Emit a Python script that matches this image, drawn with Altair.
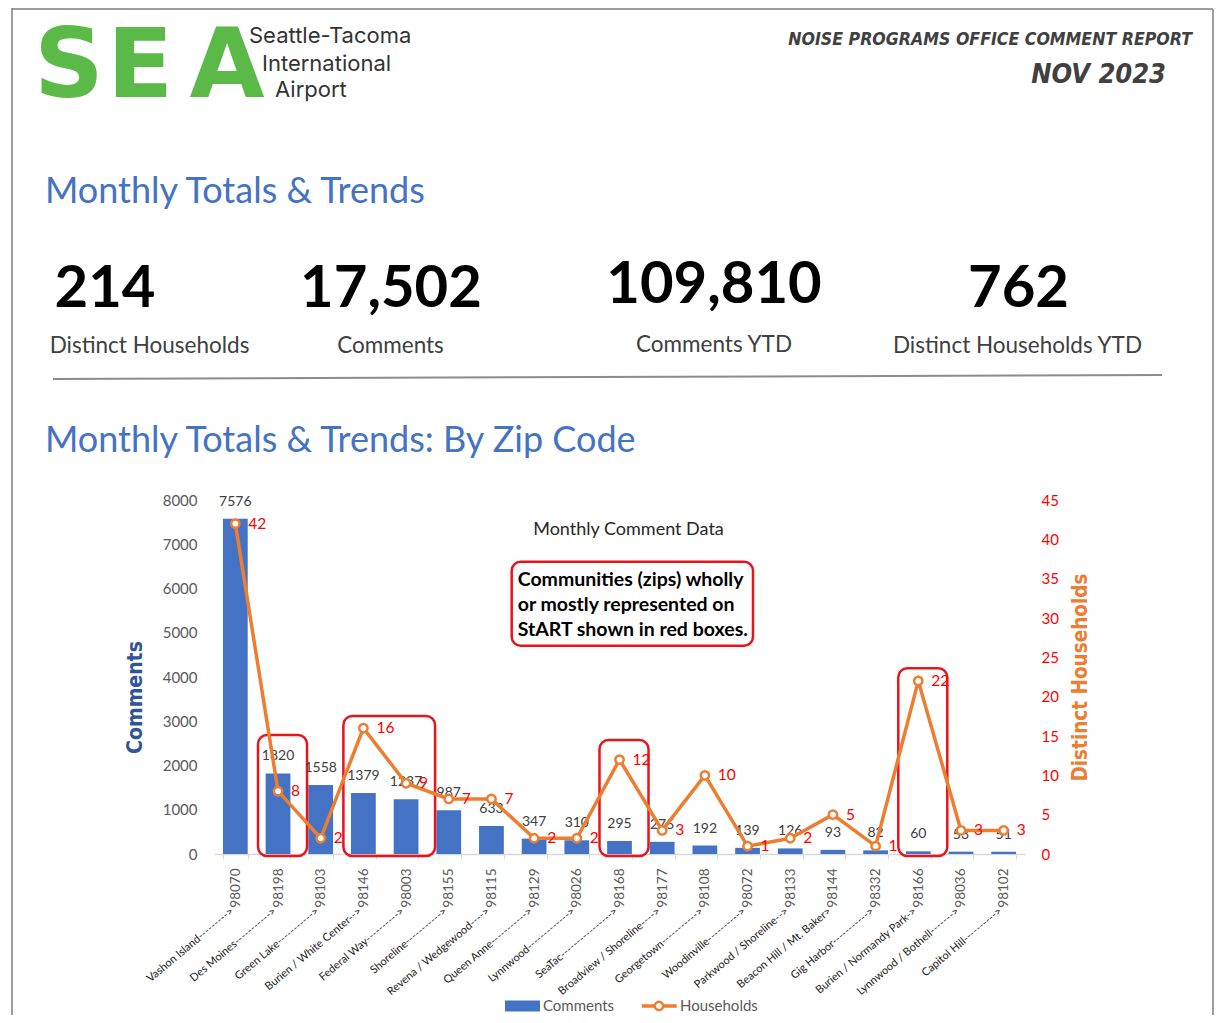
import altair as alt
import pandas as pd

# ---------------- data ----------------
zips = ["98070", "98198", "98103", "98146", "98003", "98155", "98115", "98129", "98026", "98168",
        "98177", "98108", "98072", "98133", "98144", "98332", "98166", "98036", "98102"]
places = ["Vashon Island", "Des Moines", "Green Lake", "Burien / White Center", "Federal Way",
          "Shoreline", "Revena / Wedgewood", "Queen Anne", "Lynnwood", "SeaTac",
          "Broadview / Shoreline", "Georgetown", "Woodinville", "Parkwood / Shoreline",
          "Beacon Hill / Mt. Baker", "Gig Harbor", "Burien / Normandy Park", "Lynnwood / Bothell",
          "Capitol Hill"]
arrow_dashes = [9, 11, 11, 2, 10, 11, 4, 11, 13, 16, 4, 11, 10, 2, 0, 11, 1, 7, 10]
comments = [7576, 1820, 1558, 1379, 1237, 987, 633, 347, 310, 295, 275, 192, 139, 126, 93, 82, 60, 53, 51]
households = [42, 8, 2, 16, 9, 7, 7, 2, 2, 12, 3, 10, 1, 2, 5, 1, 22, 3, 3]

box_first = ["98198", "98146", "98168", "98166"]
box_last = ["98198", "98003", "98168", "98166"]
box_top = [2690, 3120, 2575, 4200]

kpi_values = ["214", "17,502", "109,810", "762"]
kpi_labels = ["Distinct Households", "Comments", "Comments YTD", "Distinct Households YTD"]

logo_letters = ["S", "E", "A"]
logo_lines = ["Seattle-Tacoma", "International", "Airport"]
report_title = "NOISE PROGRAMS OFFICE COMMENT REPORT"
report_month = "NOV 2023"
section_titles = ["Monthly Totals & Trends", "Monthly Totals & Trends: By Zip Code"]
chart_caption = "Monthly Comment Data"
note_lines = ["Communities (zips) wholly", "or mostly represented on", "StART shown in red boxes."]
legend_names = ["Comments", "Households"]

# ---------------- layout / style ----------------
OX, OY = 214, 500          # page position of plot origin
W, H = 811, 354
TOTW, TOTH = 1206, 1007
CAL = "Lato, Open Sans, sans-serif"
NARROW = "Liberation Sans Narrow, Arial Narrow, DejaVu Sans Condensed, sans-serif"
BAR = "#4472C4"
ORANGE = "#ED7D31"
RED = "#FF0000"
BOXRED = "#E8141C"
GRAY = "#595959"

df = pd.DataFrame({
    "zip": zips,
    "place": [p + "-" * n + ">" for p, n in zip(places, arrow_dashes)],
    "comments": comments,
    "households": households,
})
boxes_df = pd.DataFrame({"first": box_first, "last": box_last, "top": box_top})


def T(text, px, py, **kw):
    return alt.Chart(pd.DataFrame({"t": [text]})).mark_text(**kw).encode(
        x=alt.value(px - OX), y=alt.value(py - OY), text="t:N")


def R(px1, px2, py1, py2, **kw):
    return alt.Chart(pd.DataFrame({"t": [0]})).mark_rule(**kw).encode(
        x=alt.value(px1 - OX), x2=alt.value(px2 - OX), y=alt.value(py1 - OY), y2=alt.value(py2 - OY))


def BOX(px1, px2, py1, py2, **kw):
    return alt.Chart(pd.DataFrame({"t": [0]})).mark_rect(**kw).encode(
        x=alt.value(px1 - OX), x2=alt.value(px2 - OX), y=alt.value(py1 - OY), y2=alt.value(py2 - OY))


xscale = alt.Scale(domain=zips, paddingInner=0.42, paddingOuter=0.21)
xaxis = alt.Axis(labelAngle=270, labelFont=CAL, labelFontSize=13.5, labelColor=GRAY,
                 labelPadding=9, tickBand="extent", tickSize=5, tickColor="#D9D9D9",
                 domainColor="#D9D9D9", domainWidth=1.5, title=None)
xenc = alt.X("zip:N", title=None, scale=xscale, axis=xaxis)

# ---------------- comments (left axis) ----------------
left_axis = alt.Axis(title="Comments", values=list(range(0, 8001, 1000)), format="d", grid=False,
                     domain=False, ticks=False, labelPadding=17, labelFont=CAL, labelFontSize=15,
                     labelColor=GRAY, titleFont=NARROW, titleFontSize=21, titleFontWeight="bold",
                     titleColor="#2F5597", titleAngle=270, titleX=135.7 - OX, titleY=697 - OY,
                     titleBaseline="middle")
yc = alt.Scale(domain=[0, 8000], nice=False)

bars = alt.Chart(df).mark_bar(color=BAR).encode(
    x=xenc, y=alt.Y("comments:Q", scale=yc, axis=left_axis))
bar_lbl = alt.Chart(df).mark_text(font=CAL, fontSize=14, color="#404040", baseline="middle", dy=-17).encode(
    x=xenc, y=alt.Y("comments:Q", scale=yc, axis=None), text="comments:Q")
red_boxes = alt.Chart(boxes_df).mark_rect(fillOpacity=0, stroke=BOXRED, strokeWidth=2.5, cornerRadius=9,
                                          xOffset=-20, x2Offset=29, y2Offset=2).encode(
    x=alt.X("first:N", title=None, scale=xscale, axis=xaxis),
    x2=alt.X2("last:N"),
    y=alt.Y("top:Q", scale=yc, axis=None),
    y2=alt.datum(0))
place_lbl = alt.Chart(df).mark_text(font=CAL, fontSize=11, color="#1A1A1A", angle=320, align="right",
                                    baseline="middle", xOffset=-3).encode(
    x=xenc, y=alt.value(410), text="place:N")

# ---------------- households (right axis) ----------------
right_axis = alt.Axis(title="Distinct Households", orient="right", values=list(range(0, 46, 5)), grid=False,
                      domain=False, ticks=False, labelPadding=16, labelFont=CAL, labelFontSize=15,
                      labelColor=RED, titleFont=NARROW, titleFontSize=20.5, titleFontWeight="bold",
                      titleColor=ORANGE, titleAngle=270, titleX=1080 - (OX + W), titleY=677 - OY,
                      titleBaseline="middle")
yh = alt.Scale(domain=[0, 45], nice=False)

hline = alt.Chart(df).mark_line(color=ORANGE, strokeWidth=3.5).encode(
    x=xenc, y=alt.Y("households:Q", scale=yh, axis=right_axis))
hpts = alt.Chart(df).mark_point(shape="circle", filled=True, fill="white", stroke=ORANGE, strokeWidth=2.5,
                                size=70, opacity=1).encode(
    x=xenc, y=alt.Y("households:Q", scale=yh, axis=None))
hlbl = alt.Chart(df).mark_text(font=CAL, fontSize=15.5, color=RED, align="left", baseline="middle", dx=13).encode(
    x=xenc, y=alt.Y("households:Q", scale=yh, axis=None), text="households:Q")

# ---------------- page decoration ----------------
deco = []
deco.append(R(12, 12, 8, 1030, color="#7F7F7F", strokeWidth=1.5))
deco.append(R(12, 1213, 9, 9, color="#7F7F7F", strokeWidth=1.5))
deco.append(R(1213, 1213, 9, 1030, color="#7F7F7F", strokeWidth=1.5))

for letter, cx in zip(logo_letters, [69, 140, 227]):
    deco.append(T(letter, cx, 97, font="DejaVu Sans", fontWeight="bold", fontSize=97, color="#5BB947",
                  align="center", baseline="alphabetic"))
for line, lx, ly in zip(logo_lines, [249, 262, 275], [36, 64, 90]):
    deco.append(T(line, lx, ly, font="Inter, Open Sans, sans-serif", fontSize=22, color="#333333",
                  align="left", baseline="middle"))
deco.append(T(report_title, 1192, 40, font=NARROW, fontWeight="bold", fontStyle="italic", fontSize=17.6,
              color="#404040", align="right", baseline="middle"))
deco.append(T(report_month, 1166, 75, font=NARROW, fontWeight="bold", fontStyle="italic", fontSize=27,
              color="#404040", align="right", baseline="middle"))

for title, by in zip(section_titles, [203, 452]):
    deco.append(T(title, 45, by, font=CAL, fontSize=36, color="#4472C4", align="left", baseline="alphabetic"))

for val, cx, by in zip(kpi_values, [105, 391, 714, 1018.5], [307, 307, 303, 307]):
    deco.append(T(val, cx, by, font=CAL, fontWeight="bold", fontSize=58, color="#000000",
                  align="center", baseline="alphabetic"))
for lab, cx, cy in zip(kpi_labels, [149.5, 390.5, 714, 1017.5], [346, 346, 345, 346]):
    deco.append(T(lab, cx, cy, font=CAL, fontSize=22.5, color="#404040", align="center", baseline="middle"))

deco.append(R(53, 1162, 379, 375, color="#8C8C8C", strokeWidth=2))

deco.append(T(chart_caption, 628.5, 530, font=CAL, fontSize=18, color="#262626", align="center",
              baseline="middle"))
deco.append(BOX(511.7, 753, 561.7, 645.7, fill="white", stroke=BOXRED, strokeWidth=2.5, cornerRadius=9))
for line, ly in zip(note_lines, [580, 605, 630]):
    deco.append(T(line, 517.7, ly, font=CAL, fontWeight="bold", fontSize=19.5, color="#000000",
                  align="left", baseline="middle"))

# legend
LY = 1006
deco.append(BOX(505, 540, LY - 5.5, LY + 5.5, fill=BAR))
deco.append(T(legend_names[0], 543, LY, font=CAL, fontSize=15, color=GRAY, align="left", baseline="middle"))
deco.append(R(641.7, 676.7, LY, LY, color=ORANGE, strokeWidth=3.5))
deco.append(alt.Chart(pd.DataFrame({"t": [0]})).mark_point(
    shape="circle", filled=True, fill="white", stroke=ORANGE, strokeWidth=2.5, size=70, opacity=1).encode(
    x=alt.value(659 - OX), y=alt.value(LY - OY)))
deco.append(T(legend_names[1], 680, LY, font=CAL, fontSize=15, color=GRAY, align="left", baseline="middle"))

chart = alt.layer(bars, red_boxes, bar_lbl, place_lbl, hline, hpts, hlbl, *deco).resolve_scale(
    y="independent").properties(
    width=W, height=H,
    autosize=alt.AutoSizeParams(type="none"),
    padding={"left": OX - 8, "top": OY - 8, "right": TOTW - (OX - 8) - W, "bottom": TOTH - (OY - 8) - H},
    background="white",
).configure_view(stroke=None)

chart.save("out.html", embed_options={"renderer": "svg", "actions": False})
